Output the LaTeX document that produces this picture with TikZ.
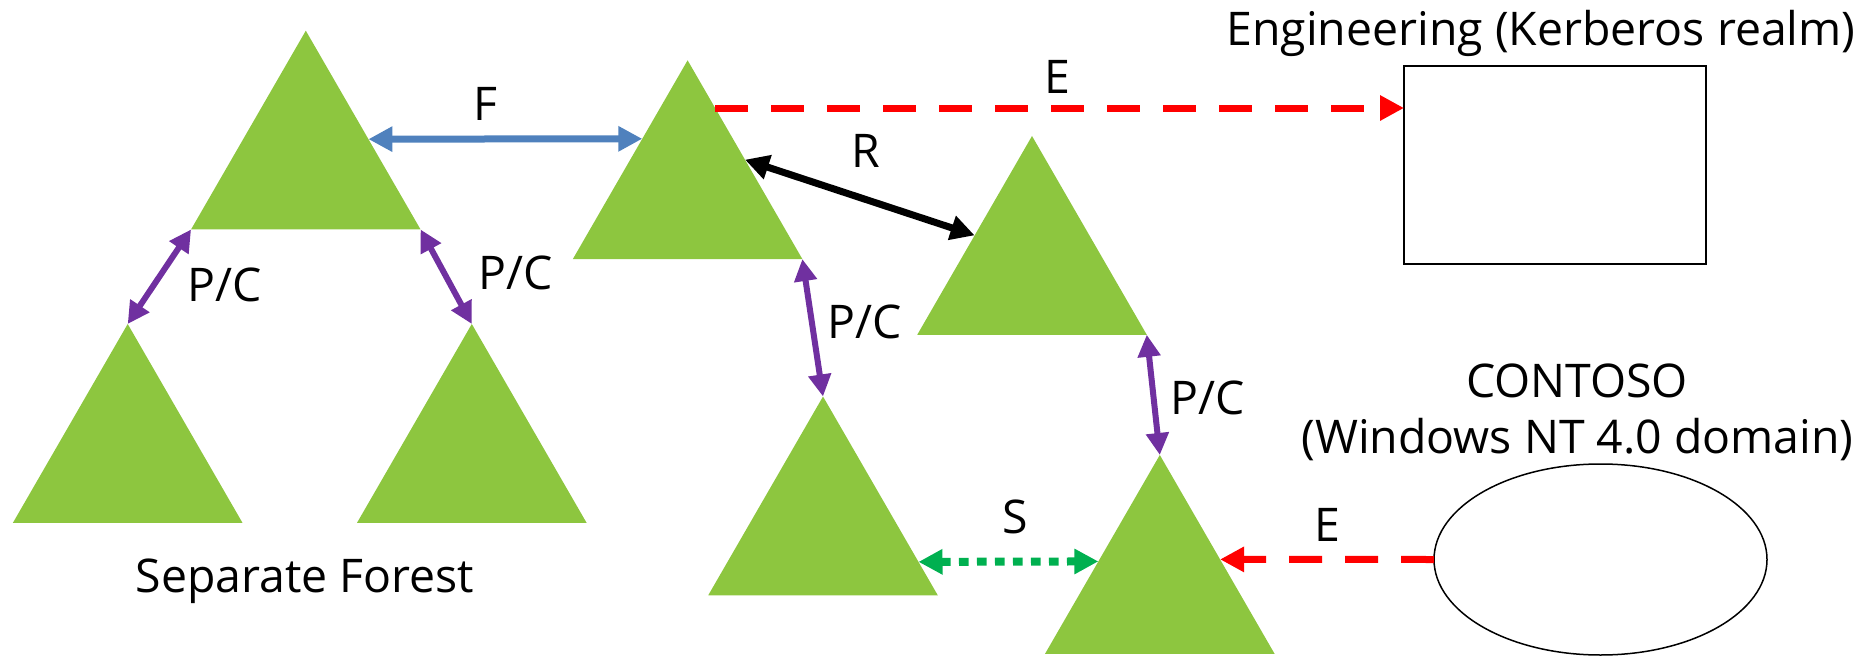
\documentclass[tikz,border=0pt]{standalone}
\usepackage{fontspec}
\setmainfont{Open Sans}
\usepackage{xcolor}
\usetikzlibrary{arrows.meta, shapes.geometric}
\definecolor{treegreen}{RGB}{141,198,63}
\definecolor{forestblue}{RGB}{79,129,189}
\definecolor{pcpurple}{RGB}{112,48,160}
\definecolor{shortgreen}{RGB}{0,176,80}
\definecolor{extred}{RGB}{255,0,0}

\begin{document}
\begin{tikzpicture}[x=0.5pt, y=-0.5pt,
    tree/.style={regular polygon, regular polygon sides=3, minimum size=132.5pt,
      inner sep=0pt, outer sep=0pt, fill=treegreen},
    lbl/.style={anchor=base, font=\fontsize{23.2}{28}\selectfont},
    forestarrow/.style={forestblue, line width=3.5pt, {Triangle[length=12pt,width=12pt]}-{Triangle[length=12pt,width=12pt]}},
    realmarrow/.style={black, line width=3.5pt, {Triangle[length=12pt,width=12pt]}-{Triangle[length=12pt,width=12pt]}},
    pcarrow/.style={pcpurple, line width=3pt, {Triangle[length=11pt,width=11pt]}-{Triangle[length=11pt,width=11pt]}},
    shortarrow/.style={shortgreen, line width=4pt, dash pattern=on 4.8pt off 4.2pt,
      {Triangle[length=12pt,width=12pt]}-{Triangle[length=12pt,width=12pt]}},
    extarrow/.style={extred, line width=3.5pt, dash pattern=on 16.5pt off 11.5pt,
      -{Triangle[length=12pt,width=12pt]}}]
  \useasboundingbox (0,0) rectangle (1871,657);
  \node[tree] (t1) at (305.8,163.2) {};
  \node[tree] (t2) at (687.6,192.8) {};
  \node[tree] (t3) at (1032,268.5) {};
  \node[tree] (t4) at (127.7,456.5) {};
  \node[tree] (t5) at (471.8,456.5) {};
  \node[tree] (t6) at (823,529) {};
  \node[tree] (t7) at (1159.8,587.5) {};
  \node[draw, line width=1pt, minimum width=151pt, minimum height=99pt,
    inner sep=0pt, outer sep=0pt] (eng) at (1555,165) {};
  \node[draw, ellipse, line width=0.75pt, minimum width=166.5pt, minimum height=95.5pt,
    inner sep=0pt, outer sep=0pt] (contoso) at (1600.5,559.5) {};
  \draw[forestarrow] (t1.21) -- (t2.130);
  \draw[extarrow] (t2.72) -- (t2.72 -| eng.west);
  \draw[realmarrow] (t2.30) -- (t3.150);
  \draw[pcarrow] (t1.corner 2) -- (t4.corner 1);
  \draw[pcarrow] (t1.corner 3) -- (t5.corner 1);
  \draw[pcarrow] (t2.corner 3) -- (t6.corner 1);
  \draw[pcarrow] (t3.corner 3) -- (t7.corner 1);
  \draw[shortarrow] (t6.341) -- (t7.157);
  \draw[extarrow] (contoso.west) -- (t7.25);
  \node[lbl] (englbl) at (1541,46) {Engineering (Kerberos realm)};
  \node[lbl] (flbl) at (485.6,120.7) {F};
  \node[lbl] (etoplbl) at (1057,94) {E};
  \node[lbl] (rlbl) at (866,168) {R};
  \node[lbl] (pclbla) at (225,302) {P/C};
  \node[lbl] (pclblb) at (516,290) {P/C};
  \node[lbl] (pclblc) at (865,338) {P/C};
  \node[lbl] (pclbld) at (1208,414) {P/C};
  \node[lbl] (contosolbl) at (1577,397) {CONTOSO};
  \node[lbl] (ntlbl) at (1577.5,453) {(Windows NT 4.0 domain)};
  \node[lbl] (slbl) at (1015.6,533) {S};
  \node[lbl] (ebotlbl) at (1327,541) {E};
  \node[lbl] (seplbl) at (305,592.7) {Separate Forest};
\end{tikzpicture}
\end{document}
